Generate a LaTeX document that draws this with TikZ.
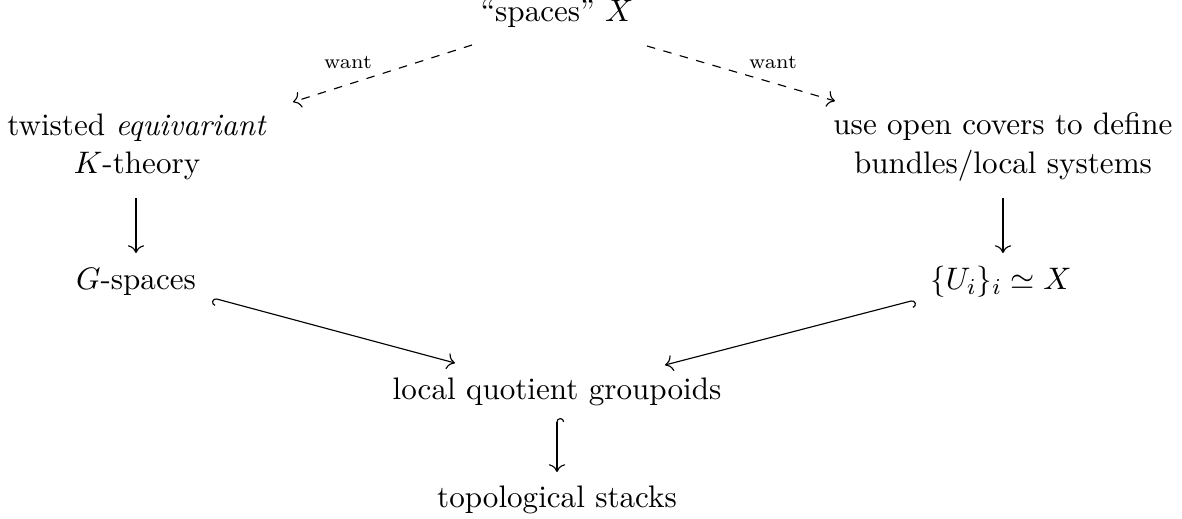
\documentclass[tikz,border=0pt]{standalone}
\usetikzlibrary{arrows.meta}
\begin{document}
\begin{tikzpicture}[x=0.352pt,y=-0.352pt,
  every node/.style={inner sep=0pt,font=\fontsize{10.95}{13.6}\selectfont},
  lbl/.style={font=\scriptsize},
  cdarrow/.style={line width=0.4pt,-{Computer Modern Rightarrow[scale=1.1]}},
  dasharrow/.style={cdarrow,dashed},
  hookL/.style={line width=0.4pt,{Hooks[left,scale=1.1]}-{Computer Modern Rightarrow[scale=1.1]}},
  hookR/.style={line width=0.4pt,{Hooks[right,scale=1.1]}-{Computer Modern Rightarrow[scale=1.1]}}]
\useasboundingbox (0,0) rectangle (1182,519);
\node (top) at (557,14) {``spaces'' $X$};
\node[align=center] (tw) at (137,147) {twisted \emph{equivariant}\\$K$-theory};
\node[align=center] (uo) at (1003,147) {use open covers to define\\bundles/local systems};
\node (G) at (136,282) {$G$-spaces};
\node (U) at (1001,282) {$\{U_i\}_i\simeq X$};
\node (L) at (557,392) {local quotient groupoids};
\node (T) at (557,500) {topological stacks};
\node[lbl] (w1) at (348,62) {want};
\node[lbl] (w2) at (773,62) {want};
\draw[dasharrow] ([shift={(-85,31)}]top.center) -- ([shift={(156,-45)}]tw.center);
\draw[dasharrow] ([shift={(90,32)}]top.center) -- ([shift={(-168,-46)}]uo.center);
\draw[cdarrow] ([shift={(-1,51)}]tw.center) -- ([shift={(0,-29)}]G.center);
\draw[cdarrow] ([shift={(0,51)}]uo.center) -- ([shift={(2,-29)}]U.center);
\draw[hookL] ([shift={(77,16)}]G.center) -- ([shift={(-102,-29)}]L.center);
\draw[hookR] ([shift={(-86,18)}]U.center) -- ([shift={(108,-27)}]L.center);
\draw[hookR] ([shift={(0,26)}]L.center) -- ([shift={(0,-28)}]T.center);
\end{tikzpicture}
\end{document}
